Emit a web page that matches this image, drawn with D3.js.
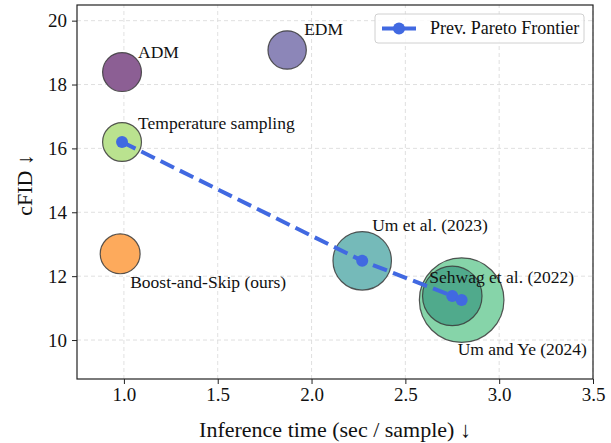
<!DOCTYPE html>
<html>
<head>
<meta charset="utf-8">
<script src="https://cdn.jsdelivr.net/npm/d3@7/dist/d3.min.js"></script>
<style>
  body { margin: 0; background: #ffffff; }
  svg text { font-family: "Liberation Serif", "DejaVu Serif", serif; fill: #111; }
</style>
</head>
<body>
<svg id="chart" width="611" height="443"></svg>
<script>
// methods (bubbles)
var names = ["Um and Ye (2024)", "Sehwag et al. (2022)", "Um et al. (2023)", "ADM", "EDM", "Temperature sampling", "Boost-and-Skip (ours)"];
var times = [2.80, 2.75, 2.27, 0.99, 1.87, 0.99, 0.98];
var cfids = [11.25, 11.38, 12.48, 18.39, 19.08, 16.20, 12.70];
var sizes = [1800, 890, 860, 380, 370, 380, 400];
var colors = ["#86d4a9", "#50aa8c", "#75bab9", "#8c5f94", "#8c86b8", "#bae28f", "#fdaa5c"];

// previous pareto frontier
var paretoTimes = [0.99, 2.27, 2.75, 2.80];
var paretoCfids = [16.20, 12.48, 11.38, 11.25];

var xTicks = [1.0, 1.5, 2.0, 2.5, 3.0, 3.5];
var yTicks = [10, 12, 14, 16, 18, 20];

// label offsets in px from bubble centre
var labelOffset = {
  "Um and Ye (2024)": [-4, 55],
  "Sehwag et al. (2022)": [-23, -13],
  "Um et al. (2023)": [10, -30],
  "ADM": [16, -14],
  "EDM": [17, -15],
  "Temperature sampling": [16, -13],
  "Boost-and-Skip (ours)": [10, 34]
};

var margin = {left: 77, top: 5, right: 18, bottom: 64};
var W = 611, H = 443;

var svg = d3.select("#chart");

var x = d3.scaleLinear().domain([0.75, 3.5]).range([margin.left, W - margin.right]);
var y = d3.scaleLinear().domain([8.78, 20.49]).range([H - margin.bottom, margin.top]);
var r = d3.scaleSqrt().domain([0, 1800]).range([0, 42.3]);

// grid
var grid = svg.append("g").attr("class", "grid");
grid.selectAll("line.gx")
  .data(xTicks)
  .enter().append("line")
  .attr("x1", function(d) { return x(d); })
  .attr("x2", function(d) { return x(d); })
  .attr("y1", y.range()[0])
  .attr("y2", y.range()[1])
  .attr("stroke", "#dcdcdc")
  .attr("stroke-width", 0.9)
  .attr("stroke-dasharray", "4,3");
grid.selectAll("line.gy")
  .data(yTicks)
  .enter().append("line")
  .attr("y1", function(d) { return y(d); })
  .attr("y2", function(d) { return y(d); })
  .attr("x1", x.range()[0])
  .attr("x2", x.range()[1])
  .attr("stroke", "#dcdcdc")
  .attr("stroke-width", 0.9)
  .attr("stroke-dasharray", "4,3");

var pts = names.map(function(n, i) {
  return {name: n, t: times[i], c: cfids[i], s: sizes[i], col: colors[i]};
});

// bubbles
svg.append("g")
  .selectAll("circle")
  .data(pts)
  .enter().append("circle")
  .attr("cx", function(d) { return x(d.t); })
  .attr("cy", function(d) { return y(d.c); })
  .attr("r", function(d) { return r(d.s); })
  .attr("fill", function(d) { return d.col; })
  .attr("stroke", "#3a3a3a")
  .attr("stroke-opacity", 0.85)
  .attr("stroke-width", 1.2);

// pareto frontier
var pareto = paretoTimes.map(function(t, i) { return [t, paretoCfids[i]]; });
var line = d3.line()
  .x(function(d) { return x(d[0]); })
  .y(function(d) { return y(d[1]); });

svg.append("path")
  .datum(pareto)
  .attr("d", line)
  .attr("fill", "none")
  .attr("stroke", "#4169e1")
  .attr("stroke-width", 4)
  .attr("stroke-dasharray", "15,6.5");

svg.append("g")
  .selectAll("circle")
  .data(pareto)
  .enter().append("circle")
  .attr("cx", function(d) { return x(d[0]); })
  .attr("cy", function(d) { return y(d[1]); })
  .attr("r", 6)
  .attr("fill", "#4169e1");

// labels
svg.append("g")
  .selectAll("text")
  .data(pts)
  .enter().append("text")
  .attr("x", function(d) { return x(d.t) + labelOffset[d.name][0]; })
  .attr("y", function(d) { return y(d.c) + labelOffset[d.name][1]; })
  .style("font-size", "17.5px")
  .text(function(d) { return d.name; });

// axes
var xAxis = svg.append("g")
  .attr("transform", "translate(0," + y.range()[0] + ")")
  .call(d3.axisBottom(x).tickValues(xTicks).tickFormat(d3.format(".1f")).tickSize(5).tickPadding(4));
var yAxis = svg.append("g")
  .attr("transform", "translate(" + x.range()[0] + ",0)")
  .call(d3.axisLeft(y).tickValues(yTicks).tickFormat(d3.format("d")).tickSize(5).tickPadding(5));

[xAxis, yAxis].forEach(function(a) {
  a.select(".domain").remove();
  a.selectAll(".tick line").attr("stroke", "#222").attr("stroke-width", 1);
  a.selectAll(".tick text").style("font-size", "19px").attr("fill", "#111");
});

// frame
svg.append("rect")
  .attr("x", x.range()[0])
  .attr("y", y.range()[1])
  .attr("width", x.range()[1] - x.range()[0])
  .attr("height", y.range()[0] - y.range()[1])
  .attr("fill", "none")
  .attr("stroke", "#222")
  .attr("stroke-width", 1.2);

// axis titles
svg.append("text")
  .attr("x", (x.range()[0] + x.range()[1]) / 2)
  .attr("y", 437)
  .attr("text-anchor", "middle")
  .style("font-size", "22px")
  .text("Inference time (sec / sample) \u2193");

svg.append("text")
  .attr("transform", "translate(32," + ((y.range()[0] + y.range()[1]) / 2 - 7) + ")rotate(-90)")
  .attr("text-anchor", "middle")
  .style("font-size", "22px")
  .text("cFID \u2193");

// legend
var lg = svg.append("g").attr("transform", "translate(375,14)");
lg.append("rect")
  .attr("width", 209)
  .attr("height", 29)
  .attr("rx", 3)
  .attr("fill", "#ffffff")
  .attr("fill-opacity", 0.85)
  .attr("stroke", "#d0d0d0")
  .attr("stroke-width", 1);
lg.append("line")
  .attr("x1", 7).attr("x2", 41)
  .attr("y1", 14.5).attr("y2", 14.5)
  .attr("stroke", "#4169e1")
  .attr("stroke-width", 4);
lg.append("circle")
  .attr("cx", 24).attr("cy", 14.5).attr("r", 6)
  .attr("fill", "#4169e1");
lg.append("text")
  .attr("x", 55).attr("y", 20)
  .style("font-size", "18px")
  .text("Prev. Pareto Frontier");
</script>
</body>
</html>
